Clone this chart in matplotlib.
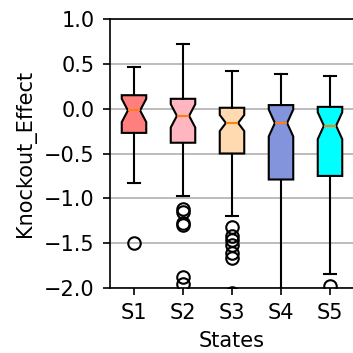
import matplotlib
matplotlib.use("Agg")
import matplotlib.pyplot as plt

states = ["S1", "S2", "S3", "S4", "S5"]
colors = ["#ff7f7f", "#ffb6c1", "#ffdab0", "#8494dc", "#00ffff"]
med = [-0.02, -0.08, -0.16, -0.16, -0.19]
q1 = [-0.27, -0.38, -0.50, -0.79, -0.75]
q3 = [0.15, 0.11, 0.01, 0.04, 0.02]
whislo = [-0.83, -0.97, -1.20, -2.30, -1.84]
whishi = [0.47, 0.72, 0.42, 0.39, 0.36]
ci_half = [0.13, 0.13, 0.09, 0.15, 0.15]
fliers = [
    [-1.50],
    [-1.12, -1.15, -1.27, -1.30, -1.88, -1.95],
    [-1.32, -1.42, -1.46, -1.52, -1.61, -1.66, -2.06],
    [],
    [-1.98],
]

stats = []
for i, s in enumerate(states):
    stats.append(dict(label=s, med=med[i], q1=q1[i], q3=q3[i],
                      whislo=whislo[i], whishi=whishi[i],
                      cilo=med[i] - ci_half[i], cihi=med[i] + ci_half[i],
                      fliers=fliers[i]))

DPI = 150
fig = plt.figure(figsize=(353 / DPI, 353 / DPI), dpi=DPI)
ax = fig.add_axes([109.5 / 353, 1 - 288 / 353, 245 / 353, 269 / 353])
ax.set_axisbelow(True)
ax.yaxis.grid(True, color="#b0b0b0", linewidth=0.8)
bp = ax.bxp(stats, positions=range(1, 6), widths=0.5, shownotches=True,
            patch_artist=True,
            flierprops=dict(marker="o", markerfacecolor="none", markeredgecolor="black"),
            medianprops=dict(color="#ff7f0e"))
for patch, c in zip(bp["boxes"], colors):
    patch.set_facecolor(c)
ax.set_xlim(0.5, 5.5)
ax.set_ylim(-2.0, 1.0)
ax.set_yticks([-2.0, -1.5, -1.0, -0.5, 0.0, 0.5, 1.0])
ax.set_xlabel("States")
ax.set_ylabel("Knockout_Effect")
fig.savefig("out.png", dpi=DPI)
